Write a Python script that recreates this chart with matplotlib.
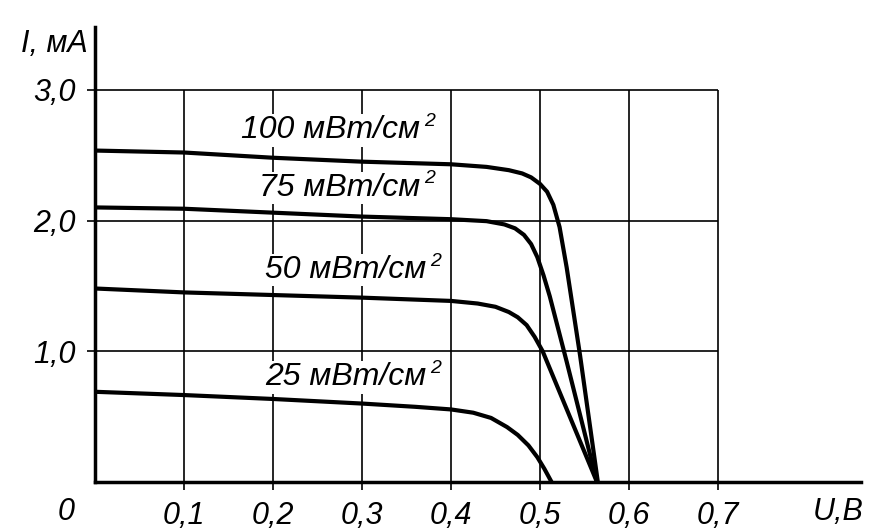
import matplotlib
matplotlib.use("Agg")
import matplotlib.pyplot as plt

plt.rcParams['font.family'] = ['Liberation Sans', 'DejaVu Sans']
plt.rcParams['font.style'] = 'italic'

# I-V curves (U in volts, I in mA)
u_100 = [0, 0.1, 0.2, 0.3, 0.4, 0.44, 0.465, 0.48, 0.49, 0.5, 0.508, 0.515, 0.522, 0.53, 0.545, 0.565]
i_100 = [2.535, 2.52, 2.48, 2.45, 2.43, 2.41, 2.385, 2.36, 2.33, 2.28, 2.22, 2.12, 1.95, 1.64, 0.97, 0]

u_75 = [0, 0.1, 0.2, 0.3, 0.4, 0.44, 0.46, 0.472, 0.482, 0.49, 0.497, 0.504, 0.511, 0.53, 0.564]
i_75 = [2.10, 2.09, 2.06, 2.03, 2.01, 1.995, 1.97, 1.94, 1.89, 1.82, 1.72, 1.58, 1.42, 0.92, 0]

u_50 = [0, 0.1, 0.2, 0.3, 0.4, 0.43, 0.45, 0.465, 0.475, 0.485, 0.494, 0.503, 0.564]
i_50 = [1.48, 1.45, 1.43, 1.41, 1.385, 1.365, 1.34, 1.30, 1.26, 1.20, 1.11, 1.0, 0]

u_25 = [0, 0.1, 0.2, 0.3, 0.36, 0.4, 0.425, 0.445, 0.463, 0.475, 0.487, 0.497, 0.505, 0.513]
i_25 = [0.69, 0.665, 0.635, 0.60, 0.575, 0.555, 0.53, 0.49, 0.42, 0.36, 0.28, 0.19, 0.10, 0]

curve_labels = ["100 мВт/см", "75 мВт/см", "50 мВт/см", "25 мВт/см"]
label_pos = [(0.365, 2.69), (0.365, 2.25), (0.372, 1.62), (0.372, 0.80)]

x_ticks = [0.1, 0.2, 0.3, 0.4, 0.5, 0.6, 0.7]
x_ticklabels = ["0,1", "0,2", "0,3", "0,4", "0,5", "0,6", "0,7"]
y_ticks = [1.0, 2.0, 3.0]
y_ticklabels = ["1,0", "2,0", "3,0"]

fig = plt.figure(figsize=(8.69, 5.31), dpi=100)
ax = fig.add_axes([95/869, 49/531, 766/869, 455/531])
ax.set_xlim(0, 0.8607)
ax.set_ylim(0, 3.48)

# grid only inside 0..0.7, 0..3
ax.vlines(x_ticks, 0, 3.0, color='black', lw=1.2)
ax.hlines(y_ticks, 0, 0.7, color='black', lw=1.2)

for u, i in [(u_100, i_100), (u_75, i_75), (u_50, i_50), (u_25, i_25)]:
    ax.plot(u, i, color='black', lw=3, solid_capstyle='butt', solid_joinstyle='round')

# labels with a white patch that cuts the grid, plus a small raised "2"
for txt, (x, y) in zip(curve_labels, label_pos):
    ax.text(x, y, txt, ha='right', va='center', fontsize=23,
            bbox=dict(facecolor='white', edgecolor='none', pad=1))
    ax.text(x + 0.005, y + 0.07, "2", ha='left', va='center', fontsize=14,
            bbox=dict(facecolor='white', edgecolor='none', pad=1))

for s in ['top', 'right']:
    ax.spines[s].set_visible(False)
for s in ['left', 'bottom']:
    ax.spines[s].set_linewidth(2.5)

ax.set_xticks(x_ticks)
ax.set_xticklabels(x_ticklabels)
ax.set_yticks(y_ticks)
ax.set_yticklabels(y_ticklabels)
ax.tick_params(axis='both', direction='out', length=6, width=1.2, labelsize=22)
ax.tick_params(axis='x', pad=8)
ax.tick_params(axis='y', pad=8)

ax.text(-0.032, -0.23, "0", ha='center', va='center', fontsize=22)
ax.text(0.835, -0.23, "U,B", ha='center', va='center', fontsize=22)
ax.text(-0.008, 3.35, "I, мА", ha='right', va='center', fontsize=22)

fig.savefig("out.png", dpi=100)
